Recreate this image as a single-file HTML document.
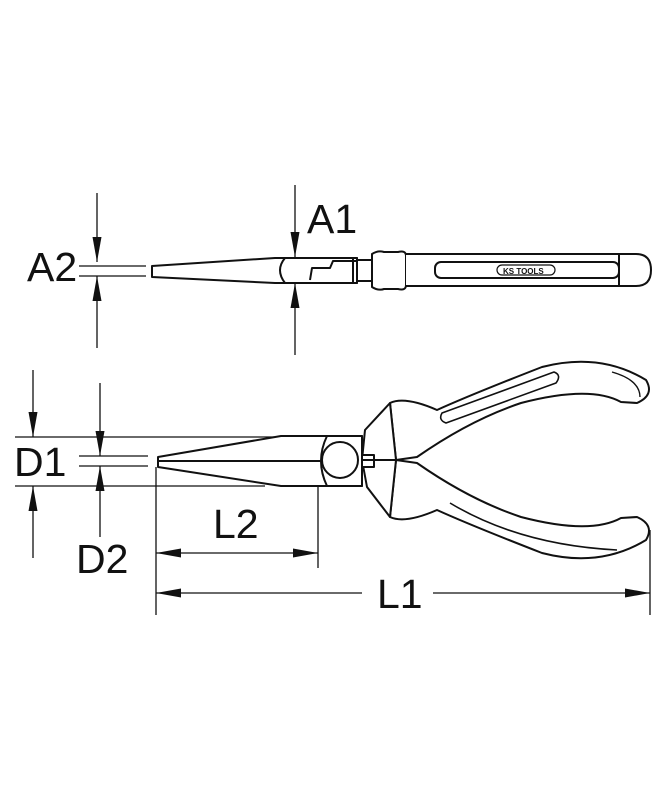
<!DOCTYPE html>
<html><head><meta charset="utf-8"><style>
html,body{margin:0;padding:0;background:#fff;}
svg{display:block}
text{font-family:"Liberation Sans",sans-serif;fill:#111}
</style></head><body>
<svg width="654" height="800" viewBox="0 0 654 800" xmlns="http://www.w3.org/2000/svg">
<defs>
<marker id="ah" viewBox="0 0 25 10" refX="25" refY="5" markerWidth="25" markerHeight="10" markerUnits="userSpaceOnUse" orient="auto-start-reverse"><path d="M0,0.5 L25,5 L0,9.5 z" fill="#111"/></marker>
</defs>
<g stroke="#111" stroke-width="1.3" fill="none">
<!-- A2 -->
<line x1="97" y1="193" x2="97" y2="262" marker-end="url(#ah)"/>
<line x1="97" y1="348" x2="97" y2="276" marker-end="url(#ah)"/>
<line x1="79" y1="266" x2="146" y2="266"/>
<line x1="79" y1="276" x2="146" y2="276"/>
<!-- A1 -->
<line x1="295" y1="185" x2="295" y2="257" marker-end="url(#ah)"/>
<line x1="295" y1="355" x2="295" y2="283" marker-end="url(#ah)"/>
</g>
<text x="27" y="281" font-size="41">A2</text>
<text x="307" y="233" font-size="41">A1</text>
<!-- top view tool -->
<g stroke="#111" stroke-width="2" fill="#fff" stroke-linejoin="round">
<path d="M152,266 L275,258 L357,258 L357,283 L275,283 L152,277 Z"/>
<path d="M285,258 L357,258 L357,283 L285,283 Q275,270 285,258 Z"/>
<path d="M310,280 L312,268 L330,268 L333,261 L348,261"/>
<path d="M348,261 L356,261 M353,258 L353,283"/>
<rect x="357" y="260" width="15" height="21"/>
<path d="M372,254 Q378,250 384,252 L398,252 Q406,250 406,256 L406,285 Q406,291 398,289 L384,289 Q378,291 372,287 Z"/>
<path d="M406,254 L636,254 Q651,254 651,270 Q651,286 636,286 L406,286"/>
<rect x="435" y="262" width="184" height="16" rx="6"/>
<line x1="619" y1="254" x2="619" y2="286"/>
<rect x="497" y="265" width="58" height="10" rx="5" stroke-width="1.2"/>
</g>
<text x="503" y="274" font-size="8" font-weight="bold">KS TOOLS</text>
<!-- D1 / D2 dims -->
<g stroke="#111" stroke-width="1.3" fill="none">
<line x1="33" y1="370" x2="33" y2="437" marker-end="url(#ah)"/>
<line x1="33" y1="558" x2="33" y2="486" marker-end="url(#ah)"/>
<line x1="15" y1="437" x2="281" y2="437"/>
<line x1="15" y1="486" x2="265" y2="486"/>
<line x1="100" y1="383" x2="100" y2="456" marker-end="url(#ah)"/>
<line x1="100" y1="537" x2="100" y2="466" marker-end="url(#ah)"/>
<line x1="79" y1="456" x2="148" y2="456"/>
<line x1="79" y1="466" x2="148" y2="466"/>
<line x1="156" y1="467" x2="156" y2="615"/>
<line x1="318" y1="463" x2="318" y2="568"/>
<line x1="650" y1="530" x2="650" y2="615"/>
<line x1="156" y1="553" x2="318" y2="553" marker-start="url(#ah)" marker-end="url(#ah)"/>
<line x1="156" y1="593" x2="362" y2="593" marker-start="url(#ah)"/>
<line x1="433" y1="593" x2="650" y2="593" marker-end="url(#ah)"/>
</g>
<text x="14" y="476" font-size="41">D1</text>
<text x="76" y="573" font-size="41">D2</text>
<text x="213" y="538" font-size="41">L2</text>
<text x="377" y="608" font-size="41">L1</text>
<!-- pliers -->
<g stroke="#111" stroke-width="2" fill="#fff" stroke-linejoin="round">
<path d="M396,460 L390,403 Q405,396 437,410 Q470,395 542,367 Q600,352 646,380 Q655,395 637,403 L621,402 Q590,385 521,403 Q470,420 417,457 Z"/>
<path d="M396,460 L390,517 Q405,524 437,510 Q470,525 542,553 Q600,568 646,540 Q655,525 637,517 L621,518 Q590,535 521,517 Q470,500 417,463 Z"/>
<path d="M442,413 L554,372 Q562,375 556,383 L446,423 Q438,420 442,413 Z" stroke-width="1.6"/>
<path d="M450,503 Q520,545 617,550" fill="none" stroke-width="1.6"/>
<path d="M612,372 Q640,380 640,397" fill="none" stroke-width="1.4"/>
<path d="M390,403 L365,430 L362,460 L367,487 L390,517 L396,460 Z"/>
<path d="M158,457 L281,436 L362,436 L362,486 L281,486 L158,467 Z"/>
<path d="M327,436 L362,436 L362,486 L327,486 Q315,461 327,436 Z"/>
<line x1="158" y1="461" x2="320" y2="461"/>
<circle cx="340" cy="460" r="18"/>
<rect x="362" y="455" width="12" height="12"/>
<line x1="362" y1="460" x2="396" y2="460"/>
</g>
</svg>
</body></html>
